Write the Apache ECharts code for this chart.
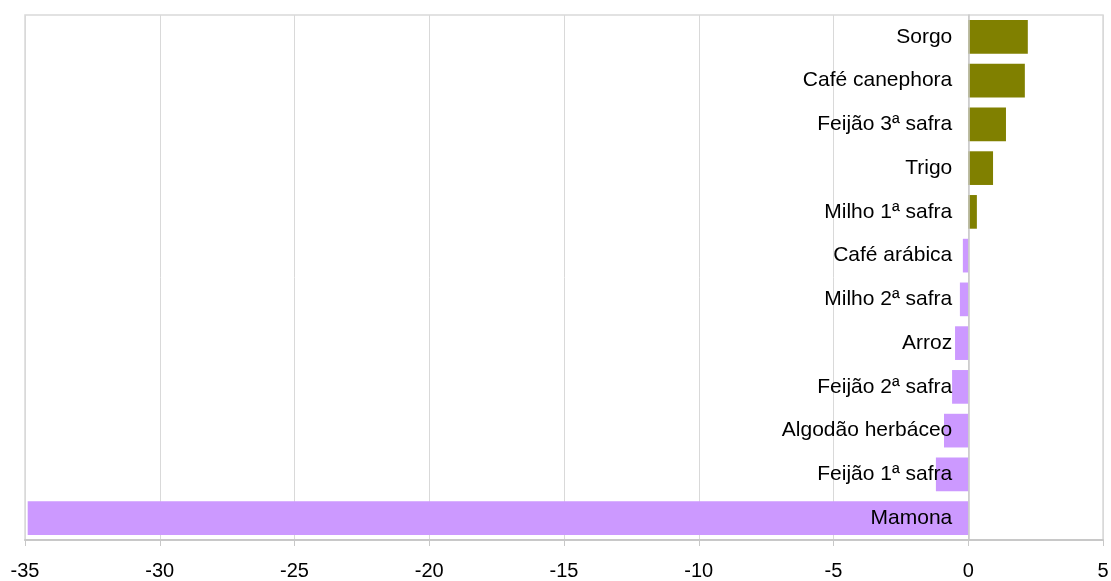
<!DOCTYPE html>
<html>
<head>
<meta charset="utf-8">
<style>
  html, body { margin: 0; padding: 0; background: #ffffff; }
  #chart { width: 1111px; height: 581px; }
</style>
<script src="https://cdn.jsdelivr.net/npm/echarts@6/dist/echarts.min.js"></script>
</head>
<body>
<div id="chart"></div>
<script>
const categories = ['Sorgo', 'Café canephora', 'Feijão 3ª safra', 'Trigo', 'Milho 1ª safra', 'Café arábica', 'Milho 2ª safra', 'Arroz', 'Feijão 2ª safra', 'Algodão herbáceo', 'Feijão 1ª safra', 'Mamona'];
const values = [2.21, 2.1, 1.4, 0.92, 0.32, -0.2, -0.31, -0.49, -0.6, -0.9, -1.2, -34.9];
const xTicks = { min: -35, max: 5, interval: 5 };

const gridLeft = 25, gridRight = 8, width = 1111;
const plotW = width - gridLeft - gridRight;
const zeroOffset = -plotW * (0 - xTicks.min) / (xTicks.max - xTicks.min);

const chart = echarts.init(document.getElementById('chart'));
chart.setOption({
  animation: false,
  backgroundColor: '#ffffff',
  grid: { left: gridLeft, right: gridRight, top: 15, bottom: 41, show: true, borderColor: '#d9d9d9', borderWidth: 1.5, containLabel: false, outerBoundsMode: 'none' },
  xAxis: {
    type: 'value',
    min: xTicks.min, max: xTicks.max, interval: xTicks.interval,
    axisLine: { show: true, lineStyle: { color: '#c8c8c8', width: 2 } },
    axisTick: { show: true, length: 6, lineStyle: { color: '#c8c8c8' } },
    axisLabel: { color: '#000000', fontSize: 20, fontFamily: 'Liberation Sans, Arial, sans-serif', margin: 21 },
    splitLine: { show: true, lineStyle: { color: '#d9d9d9', width: 1 } }
  },
  yAxis: {
    type: 'category',
    data: categories,
    inverse: true,
    position: 'left',
    offset: zeroOffset,
    z: 5,
    axisLine: { show: true, onZero: false, lineStyle: { color: '#c8c8c8', width: 1.5 } },
    axisTick: { show: false },
    axisLabel: { color: '#000000', fontSize: 21, fontFamily: 'Liberation Sans, Arial, sans-serif', margin: 16 },
    splitLine: { show: false }
  },
  series: [{
    type: 'bar',
    data: values.map(v => ({ value: v, itemStyle: { color: v >= 0 ? '#808000' : '#cc99ff' } })),
    barCategoryGap: '23%'
  }]
});
</script>
</body>
</html>
